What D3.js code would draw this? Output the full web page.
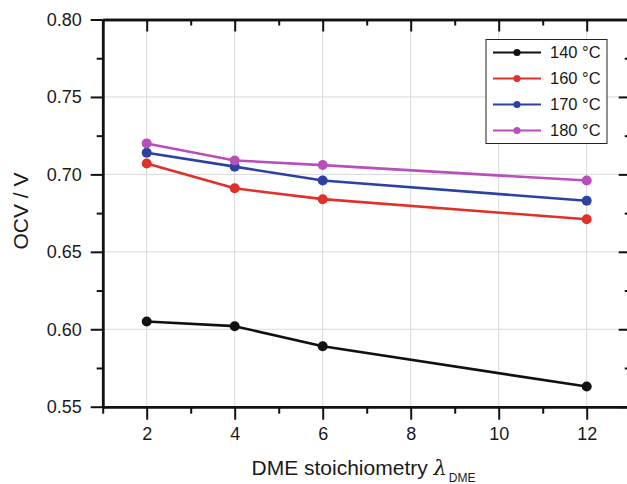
<!DOCTYPE html>
<html><head><meta charset="utf-8">
<script src="https://cdn.jsdelivr.net/npm/d3@7"></script>
<style>body{margin:0;background:#fff;} svg{display:block;font-family:"Liberation Sans",Arial,sans-serif;}</style>
</head><body>
<script>
const stoich = [2, 4, 6, 12];
const seriesNames = ["140 °C", "160 °C", "170 °C", "180 °C"];
const ocv140 = [0.605, 0.602, 0.589, 0.563];
const ocv160 = [0.707, 0.691, 0.684, 0.671];
const ocv170 = [0.714, 0.705, 0.696, 0.683];
const ocv180 = [0.720, 0.709, 0.706, 0.696];
const colors = ["#111111", "#e0302a", "#2c42a3", "#b94fb8"];
const xTicks = [2, 4, 6, 8, 10, 12];
const yTicks = [0.55, 0.60, 0.65, 0.70, 0.75, 0.80];

const series = [ocv140, ocv160, ocv170, ocv180].map((v, i) => ({name: seriesNames[i], color: colors[i], values: v}));

const W = 627, H = 484;
const svg = d3.select("body").append("svg").attr("width", W).attr("height", H);
const x = d3.scaleLinear().domain([1, 13]).range([102.7, 630.7]);
const y = d3.scaleLinear().domain([0.55, 0.80]).range([406.7, 19.5]);
const xMinor = d3.range(1, 14, 1).filter(v => v % 2 === 1);
const yMinor = [0.575, 0.625, 0.675, 0.725, 0.775];

// grid
const grid = svg.append("g").attr("stroke", "#d9d9d9").attr("stroke-width", 1);
grid.selectAll(".gx").data(xTicks).join("line")
  .attr("x1", d => x(d)).attr("x2", d => x(d)).attr("y1", y(0.80)).attr("y2", y(0.55));
grid.selectAll(".gy").data(yTicks).join("line")
  .attr("y1", d => y(d)).attr("y2", d => y(d)).attr("x1", x(1)).attr("x2", x(13));

// axes
function styleAxis(g){ g.select(".domain").attr("stroke","#111").attr("stroke-width",2.5);
  g.selectAll(".tick line").attr("stroke","#111").attr("stroke-width",2);
  g.selectAll(".tick text").attr("fill","#1a1a1a").attr("font-size","18px"); }

svg.append("g").attr("transform", `translate(0,${y(0.55)})`)
  .call(d3.axisBottom(x).tickValues(xTicks).tickFormat(d3.format("d")).tickSize(13).tickSizeOuter(0).tickPadding(8))
  .call(styleAxis).call(g => g.selectAll(".tick text").attr("dy", "0.71em"));
svg.append("g").attr("transform", `translate(0,${y(0.55)})`)
  .call(d3.axisBottom(x).tickValues(xMinor).tickFormat("").tickSize(7).tickSizeOuter(0))
  .call(styleAxis);
svg.append("g").attr("transform", `translate(0,${y(0.80)})`)
  .call(d3.axisBottom(x).tickValues(xTicks).tickFormat("").tickSize(12).tickSizeOuter(0))
  .call(styleAxis);
svg.append("g").attr("transform", `translate(0,${y(0.80)})`)
  .call(d3.axisBottom(x).tickValues(xMinor).tickFormat("").tickSize(6).tickSizeOuter(0))
  .call(styleAxis);

svg.append("g").attr("transform", `translate(${x(1)},0)`)
  .call(d3.axisLeft(y).tickValues(yTicks).tickFormat(d3.format(".2f")).tickSize(12).tickSizeOuter(0).tickPadding(9))
  .call(styleAxis);
svg.append("g").attr("transform", `translate(${x(1)},0)`)
  .call(d3.axisLeft(y).tickValues(yMinor).tickFormat("").tickSize(6).tickSizeOuter(0))
  .call(styleAxis);
svg.append("g").attr("transform", `translate(${x(13)},0)`)
  .call(d3.axisLeft(y).tickValues(yTicks).tickFormat("").tickSize(12).tickSizeOuter(0))
  .call(styleAxis);
svg.append("g").attr("transform", `translate(${x(13)},0)`)
  .call(d3.axisLeft(y).tickValues(yMinor).tickFormat("").tickSize(6).tickSizeOuter(0))
  .call(styleAxis);

// lines
const line = d3.line().x((d, i) => x(stoich[i])).y(d => y(d));
const sg = svg.append("g");
series.forEach(s => {
  sg.append("path").datum(s.values).attr("d", line).attr("fill", "none")
    .attr("stroke", s.color).attr("stroke-width", 2.6).attr("stroke-linejoin", "round");
  sg.selectAll(null).data(s.values).join("circle")
    .attr("cx", (d, i) => x(stoich[i])).attr("cy", d => y(d)).attr("r", 5).attr("fill", s.color);
});

// legend
const lg = svg.append("g");
lg.append("rect").attr("x", 486).attr("y", 39.5).attr("width", 121).attr("height", 104)
  .attr("fill", "#fff").attr("stroke", "#222").attr("stroke-width", 1);
series.forEach((s, i) => {
  const yy = 52.5 + i * 26;
  lg.append("line").attr("x1", 493).attr("x2", 541).attr("y1", yy).attr("y2", yy)
    .attr("stroke", s.color).attr("stroke-width", 2);
  lg.append("circle").attr("cx", 517).attr("cy", yy).attr("r", 3.6).attr("fill", s.color);
  lg.append("text").attr("x", 550).attr("y", yy).attr("dy", "0.36em")
    .attr("font-size", "16.5px").attr("fill", "#1a1a1a").text(s.name);
});

// axis titles
svg.append("text").attr("transform", `translate(28,211) rotate(-90)`).attr("text-anchor", "middle")
  .attr("font-size", "21px").attr("fill", "#1a1a1a").text("OCV / V");
const xt = svg.append("text").attr("x", 251.5).attr("y", 475).attr("font-size", "21px").attr("fill", "#1a1a1a");
xt.append("tspan").text("DME stoichiometry ");
xt.append("tspan").attr("font-style", "italic").attr("font-family", "'DejaVu Serif',serif").text("λ");
xt.append("tspan").attr("font-size", "12px").attr("dy", "7").attr("dx", "2").text("DME");
</script>
</body></html>
